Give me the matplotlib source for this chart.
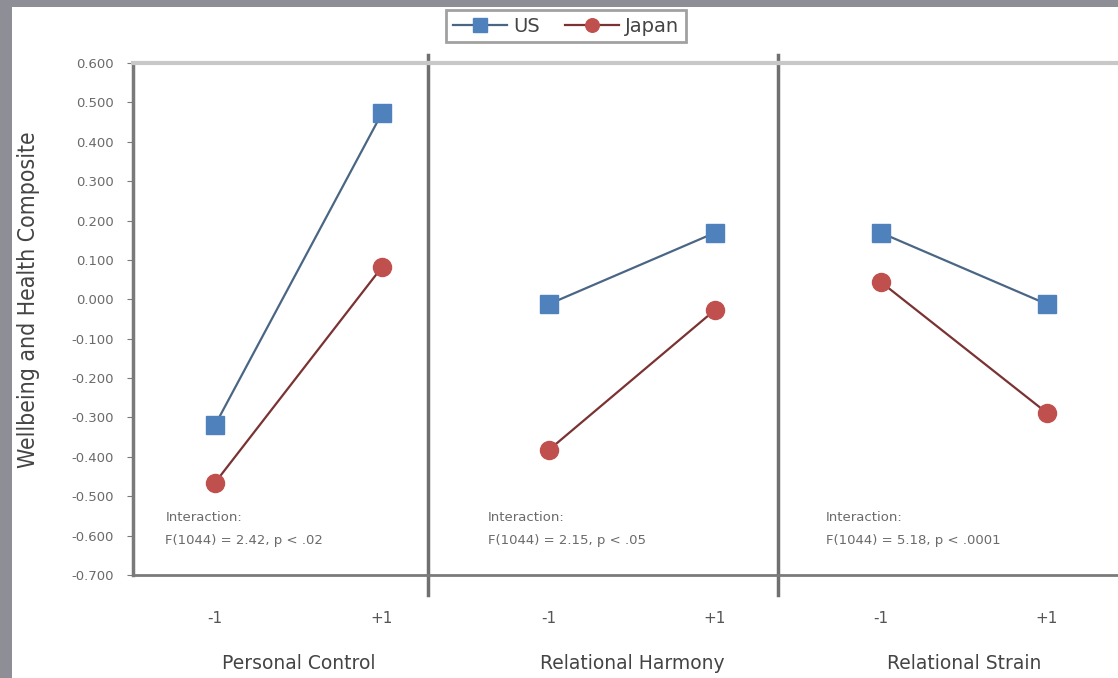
import matplotlib.pyplot as plt
from matplotlib.patches import Rectangle

# data
levels = [-1, 1]
level_labels = ['-1', '+1']
panels = ['Personal Control', 'Relational Harmony', 'Relational Strain']
us = [[-0.32, 0.473], [-0.012, 0.169], [0.169, -0.012]]
japan = [[-0.466, 0.082], [-0.382, -0.027], [0.044, -0.288]]
stats = ['F(1044) = 2.42, p < .02', 'F(1044) = 2.15, p < .05', 'F(1044) = 5.18, p < .0001']
yticks = [0.6, 0.5, 0.4, 0.3, 0.2, 0.1, 0.0, -0.1, -0.2, -0.3, -0.4, -0.5, -0.6, -0.7]

W, H = 1118, 678
fig = plt.figure(figsize=(W / 100, H / 100), dpi=100, facecolor='#8e8e96')
fig.patches.append(Rectangle((12 / W, 0), 1, 1 - 7 / H, transform=fig.transFigure,
                             facecolor='white', edgecolor='none', zorder=-10))

# panel edges in pixels and x-limits so that -1/+1 land where they should
edges = [(133, 428), (428, 778), (778, 1118)]
xlims = [(-1.98, 1.55), (-2.46, 1.76), (-2.24, 1.86)]
text_x = [0.11, 0.17, 0.14]
top, bottom = 63, 575

us_line, us_face = '#4a6684', '#4f81bd'
jp_line, jp_face = '#7a3232', '#c0504d'
grey_txt = '#6a6a6a'

axes = []
for i, (l, r) in enumerate(edges):
    ax = fig.add_axes([l / W, 1 - bottom / H, (r - l) / W, (bottom - top) / H])
    ax.set_facecolor('none')
    ax.plot(levels, us[i], '-', color=us_line, lw=1.6, marker='s', ms=13,
            mfc=us_face, mec=us_face, label='US')
    ax.plot(levels, japan[i], '-', color=jp_line, lw=1.6, marker='o', ms=13,
            mfc=jp_face, mec=jp_face, label='Japan')
    ax.set_xlim(*xlims[i])
    ax.set_ylim(-0.7, 0.6)
    ax.set_xticks(levels)
    ax.set_xticklabels(level_labels, fontsize=11, color='#555555')
    ax.tick_params(axis='x', length=0, pad=26)
    ax.set_xlabel(panels[i], fontsize=13.5, color='#444444')
    x0, x1 = xlims[i]
    ax.xaxis.set_label_coords((0 - x0) / (x1 - x0), -0.155)
    ax.spines['top'].set_color('#c8c8c8')
    ax.spines['top'].set_linewidth(3)
    ax.spines['bottom'].set_color('#7a7a7a')
    ax.spines['bottom'].set_linewidth(2)
    ax.spines['right'].set_visible(False)
    ax.spines['left'].set_color('#7a7a7a')
    ax.spines['left'].set_linewidth(2.5)
    ax.spines['left'].set_visible(i == 0)
    if i < 2:
        # divider between panels, running a little past the frame
        ax.axvline(x1, ymin=-0.04, ymax=1.015, color='#707070', lw=2.5, clip_on=False)
    if i == 0:
        ax.set_yticks(yticks)
        ax.set_yticklabels(['%.3f' % v for v in yticks], fontsize=9.5, color=grey_txt)
        ax.tick_params(axis='y', length=4, color='#7a7a7a', pad=10)
        ax.set_ylabel('Wellbeing and Health Composite', fontsize=16.5,
                      color='#444444', fontstretch='condensed')
        ax.yaxis.set_label_coords(-0.315, 0.537)
    else:
        ax.set_yticks([])
    ax.text(text_x[i], 0.106, 'Interaction:', transform=ax.transAxes,
            fontsize=9.5, color=grey_txt)
    ax.text(text_x[i], 0.06, stats[i], transform=ax.transAxes,
            fontsize=9.5, color=grey_txt)
    axes.append(ax)

handles, labels = axes[0].get_legend_handles_labels()
leg = fig.legend(handles, labels, loc='center', bbox_to_anchor=(566 / W, 1 - 26 / H),
                 ncol=2, fontsize=14, frameon=True, fancybox=False,
                 handlelength=2.8, columnspacing=1.3, handletextpad=0.3,
                 markerscale=0.75, borderpad=0.35)
leg.get_frame().set_edgecolor('#8a8a8a')
leg.get_frame().set_linewidth(2)
for t in leg.get_texts():
    t.set_color('#444444')

fig.savefig('out.png', dpi=100, facecolor=fig.get_facecolor())
